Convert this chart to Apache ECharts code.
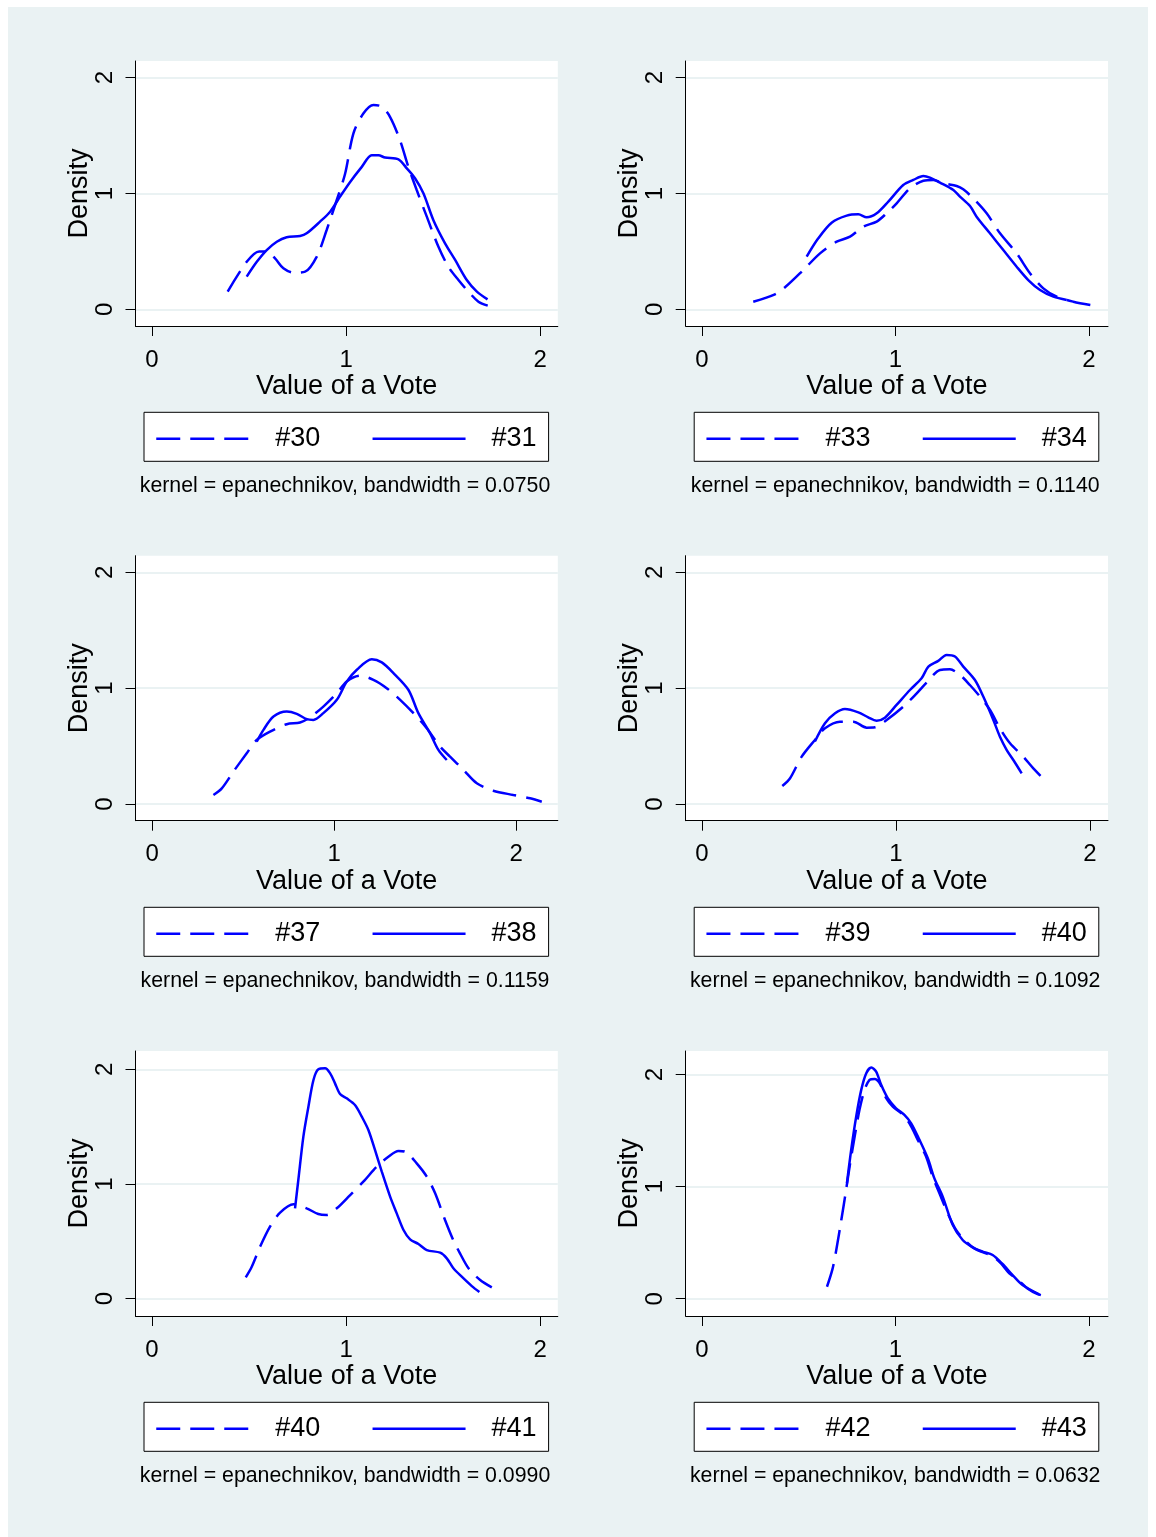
<!DOCTYPE html>
<html>
<head>
<meta charset="utf-8">
<script src="https://cdn.jsdelivr.net/npm/echarts@6/dist/echarts.min.js"></script>
<style>
  html, body { margin: 0; padding: 0; background: #fff; }
  #chart { width: 1156px; height: 1537px; }
</style>
</head>
<body>
<div id="chart"></div>
<script>
// kernel density curves, [value of a vote, density]
const v30 = [[0.39,0.153],[0.488,0.41],[0.552,0.50],[0.591,0.50],[0.634,0.44],[0.677,0.354],[0.729,0.317],[0.789,0.325],[0.849,0.455],[0.90,0.685],[0.952,0.944],[0.995,1.17],[1.038,1.52],[1.089,1.69],[1.141,1.764],[1.184,1.75],[1.227,1.66],[1.278,1.46],[1.321,1.23],[1.364,1.03],[1.416,0.80],[1.476,0.54],[1.527,0.368],[1.579,0.253],[1.63,0.153],[1.682,0.066],[1.73,0.032]]
const v31 = [[0.488,0.282],[0.54,0.41],[0.591,0.512],[0.643,0.584],[0.694,0.622],[0.763,0.633],[0.797,0.656],[0.866,0.757],[0.918,0.843],[0.969,0.973],[1.021,1.10],[1.081,1.23],[1.132,1.33],[1.167,1.33],[1.201,1.31],[1.27,1.295],[1.313,1.217],[1.356,1.13],[1.399,1.00],[1.45,0.77],[1.51,0.57],[1.562,0.426],[1.622,0.253],[1.674,0.153],[1.729,0.086]]
const v33 = [[0.265,0.066],[0.377,0.13],[0.429,0.19],[0.524,0.34],[0.61,0.483],[0.696,0.584],[0.765,0.627],[0.834,0.714],[0.903,0.757],[0.954,0.829],[1.006,0.915],[1.075,1.045],[1.144,1.11],[1.196,1.117],[1.247,1.088],[1.316,1.065],[1.35,1.036],[1.402,0.958],[1.471,0.829],[1.54,0.656],[1.626,0.483],[1.695,0.311],[1.764,0.181],[1.833,0.109],[1.919,0.066],[2.01,0.037]]
const v34 = [[0.541,0.455],[0.601,0.613],[0.67,0.748],[0.748,0.809],[0.808,0.82],[0.851,0.794],[0.903,0.829],[0.963,0.93],[1.04,1.073],[1.092,1.117],[1.144,1.151],[1.178,1.137],[1.23,1.094],[1.299,1.03],[1.333,0.973],[1.385,0.892],[1.419,0.80],[1.488,0.656],[1.557,0.512],[1.626,0.368],[1.686,0.253],[1.747,0.167],[1.816,0.109],[1.885,0.081]]
const v37 = [[0.337,0.078],[0.383,0.135],[0.447,0.28],[0.52,0.438],[0.575,0.553],[0.648,0.625],[0.74,0.689],[0.813,0.703],[0.868,0.749],[0.941,0.841],[1.015,0.957],[1.07,1.058],[1.143,1.107],[1.216,1.072],[1.289,1.0],[1.363,0.899],[1.436,0.784],[1.509,0.654],[1.582,0.496],[1.637,0.409],[1.711,0.294],[1.784,0.179],[1.875,0.115],[1.985,0.078],[2.077,0.049],[2.141,0.02]]
const v38 = [[0.575,0.539],[0.612,0.64],[0.667,0.755],[0.74,0.798],[0.795,0.778],[0.85,0.732],[0.886,0.726],[0.941,0.784],[1.015,0.899],[1.07,1.058],[1.125,1.159],[1.207,1.25],[1.262,1.222],[1.326,1.13],[1.408,0.986],[1.463,0.784],[1.527,0.611],[1.573,0.467],[1.619,0.38]]
const v39 = [[0.414,0.155],[0.454,0.222],[0.514,0.409],[0.582,0.553],[0.634,0.654],[0.711,0.711],[0.78,0.711],[0.849,0.659],[0.892,0.662],[0.952,0.725],[1.038,0.84],[1.107,0.955],[1.158,1.047],[1.227,1.157],[1.278,1.162],[1.33,1.114],[1.381,1.027],[1.433,0.927],[1.485,0.812],[1.536,0.653],[1.588,0.524],[1.656,0.409],[1.708,0.308],[1.763,0.213]]
const v40 = [[0.582,0.539],[0.634,0.697],[0.686,0.783],[0.737,0.82],[0.806,0.791],[0.857,0.748],[0.9,0.719],[0.943,0.745],[1.003,0.855],[1.072,0.984],[1.132,1.085],[1.167,1.186],[1.218,1.235],[1.261,1.287],[1.304,1.273],[1.347,1.186],[1.407,1.07],[1.45,0.927],[1.502,0.725],[1.536,0.581],[1.571,0.466],[1.605,0.38],[1.648,0.265]]
const v40b = [[0.483,0.186],[0.514,0.279],[0.557,0.453],[0.608,0.628],[0.66,0.75],[0.729,0.823],[0.797,0.788],[0.857,0.738],[0.90,0.73],[0.952,0.788],[1.021,0.904],[1.089,1.02],[1.158,1.151],[1.218,1.238],[1.27,1.288],[1.304,1.282],[1.364,1.18],[1.416,1.064],[1.459,0.919],[1.51,0.686],[1.552,0.512],[1.587,0.395],[1.631,0.265],[1.691,0.163],[1.751,0.099]]
const v41 = [[0.737,0.788],[0.754,1.035],[0.78,1.413],[0.806,1.674],[0.832,1.907],[0.857,2.0],[0.892,2.009],[0.918,1.965],[0.943,1.878],[0.969,1.785],[1.003,1.747],[1.046,1.689],[1.081,1.587],[1.115,1.471],[1.149,1.297],[1.184,1.108],[1.227,0.89],[1.261,0.744],[1.296,0.599],[1.33,0.517],[1.373,0.477],[1.416,0.424],[1.485,0.401],[1.519,0.352],[1.553,0.265],[1.596,0.192],[1.648,0.11],[1.687,0.058]]
const v42 = [[0.646,0.107],[0.674,0.262],[0.694,0.435],[0.72,0.702],[0.742,0.94],[0.763,1.179],[0.789,1.446],[0.814,1.685],[0.84,1.863],[0.866,1.952],[0.892,1.961],[0.918,1.923],[0.952,1.789],[0.986,1.714],[1.029,1.655],[1.072,1.565],[1.115,1.417],[1.158,1.268],[1.192,1.089],[1.227,0.94],[1.27,0.762],[1.313,0.613],[1.356,0.524],[1.407,0.449],[1.467,0.405],[1.502,0.381],[1.545,0.315],[1.588,0.226],[1.631,0.173],[1.682,0.092],[1.734,0.042],[1.785,0.018]]
const v43 = [[0.749,1.03],[0.771,1.327],[0.797,1.625],[0.823,1.863],[0.849,2.012],[0.875,2.062],[0.9,2.027],[0.926,1.908],[0.96,1.789],[1.003,1.699],[1.046,1.64],[1.081,1.565],[1.124,1.417],[1.167,1.253],[1.201,1.074],[1.244,0.911],[1.296,0.658],[1.347,0.524],[1.399,0.458],[1.45,0.42],[1.502,0.39],[1.553,0.31],[1.605,0.211],[1.656,0.122],[1.742,0.039]]

const dashedNames = ['#30', '#33', '#37', '#39', '#40', '#42']
const solidNames = ['#31', '#34', '#38', '#40', '#41', '#43']
const dashedData = [v30, v33, v37, v39, v40b, v42]
const solidData = [v31, v34, v38, v40, v41, v43]
const bandwidths = ['0.0750', '0.1140', '0.1159', '0.1092', '0.0990', '0.0632']
const tickValues = [0, 1, 2]

// axis extents so that ticks land where Stata put them
const xRanges = [[-0.085, 2.091], [-0.084, 2.098], [-0.091, 2.229], [-0.084, 2.093], [-0.085, 2.091], [-0.084, 2.098]]
const yRanges = [[-0.144, 2.144], [-0.144, 2.144], [-0.144, 2.143], [-0.144, 2.143], [-0.151, 2.16], [-0.154, 2.21]]

const FONT = "'Liberation Sans', Arial, Helvetica, sans-serif"
const BLUE = '#0000ff'
const BG = '#eaf2f3'
const colLeft = [135.5, 685.7]
const rowTop = [61, 555.7, 1051]
const plotW = 422.3
const plotH = 265

const grids = [], xAxes = [], yAxes = [], series = [], legends = [], graphics = []

graphics.push({
  type: 'rect', z: -100,
  shape: { x: 8, y: 7, width: 1140, height: 1530 },
  style: { fill: BG }
})

for (let i = 0; i < 6; i++) {
  const col = i % 2
  const row = Math.floor(i / 2)
  const left = colLeft[col]
  const top = rowTop[row]
  grids.push({
    left: left, top: top, width: plotW, height: plotH,
    show: true, backgroundColor: '#fff', borderWidth: 0
  })
  xAxes.push({
    type: 'value', gridIndex: i,
    min: xRanges[i][0], max: xRanges[i][1],
    name: 'Value of a Vote', nameLocation: 'middle', nameGap: 37,
    nameTextStyle: { fontFamily: FONT, fontSize: 27, color: '#000' },
    axisLine: { show: true, onZero: false, lineStyle: { color: '#000', width: 1 } },
    axisTick: { show: true, length: 10, customValues: tickValues, lineStyle: { color: '#000' } },
    axisLabel: { customValues: tickValues, margin: 22, fontFamily: FONT, fontSize: 24, color: '#000' },
    splitLine: { show: false }
  })
  yAxes.push({
    type: 'value', gridIndex: i,
    min: yRanges[i][0], max: yRanges[i][1],
    name: 'Density', nameLocation: 'middle', nameGap: 40, nameRotate: 90,
    nameTextStyle: { fontFamily: FONT, fontSize: 27, color: '#000' },
    axisLine: { show: true, onZero: false, lineStyle: { color: '#000', width: 1 } },
    axisTick: { show: true, length: 10, customValues: tickValues, lineStyle: { color: '#000' } },
    axisLabel: { customValues: tickValues, rotate: 90, margin: 18, fontFamily: FONT, fontSize: 24, color: '#000' },
    splitLine: { show: true, lineStyle: { color: BG, width: 2 } }
  })
  const dName = dashedNames[i] + ' '.repeat(i)
  const sName = solidNames[i] + ' '.repeat(i)
  series.push({
    name: dName, type: 'line', xAxisIndex: i, yAxisIndex: i,
    data: dashedData[i], symbol: 'none', smooth: 0.3, silent: true,
    lineStyle: { color: BLUE, width: 2.5, type: [24, 10] }, itemStyle: { color: BLUE }
  })
  series.push({
    name: sName, type: 'line', xAxisIndex: i, yAxisIndex: i,
    data: solidData[i], symbol: 'none', smooth: 0.3, silent: true,
    lineStyle: { color: BLUE, width: 2.5, type: 'solid' }, itemStyle: { color: BLUE }
  })
  legends.push({
    data: [dName, sName],
    left: left + 8.5, top: 412.3 + row * 495,
    orient: 'horizontal', selectedMode: false,
    itemWidth: 93, itemHeight: 4, itemGap: 51,
    padding: [13, 12, 9, 11],
    backgroundColor: '#fff', borderColor: '#000', borderWidth: 1, borderRadius: 0,
    itemStyle: { opacity: 0 },
    lineStyle: { width: 2.5 },
    formatter: (n) => n.trim(),
    textStyle: { fontFamily: FONT, fontSize: 27, color: '#000', padding: [0, 0, 0, 21] }
  })
  graphics.push({
    type: 'text',
    x: left + 209.5, y: 486 + row * 495,
    style: {
      text: 'kernel = epanechnikov, bandwidth = ' + bandwidths[i],
      font: '21.3px ' + FONT, fill: '#000',
      align: 'center', verticalAlign: 'middle'
    }
  })
}

const chart = echarts.init(document.getElementById('chart'))
chart.setOption({
  backgroundColor: '#fff',
  animation: false,
  grid: grids,
  xAxis: xAxes,
  yAxis: yAxes,
  series: series,
  legend: legends,
  graphic: graphics
})
</script>
</body>
</html>
